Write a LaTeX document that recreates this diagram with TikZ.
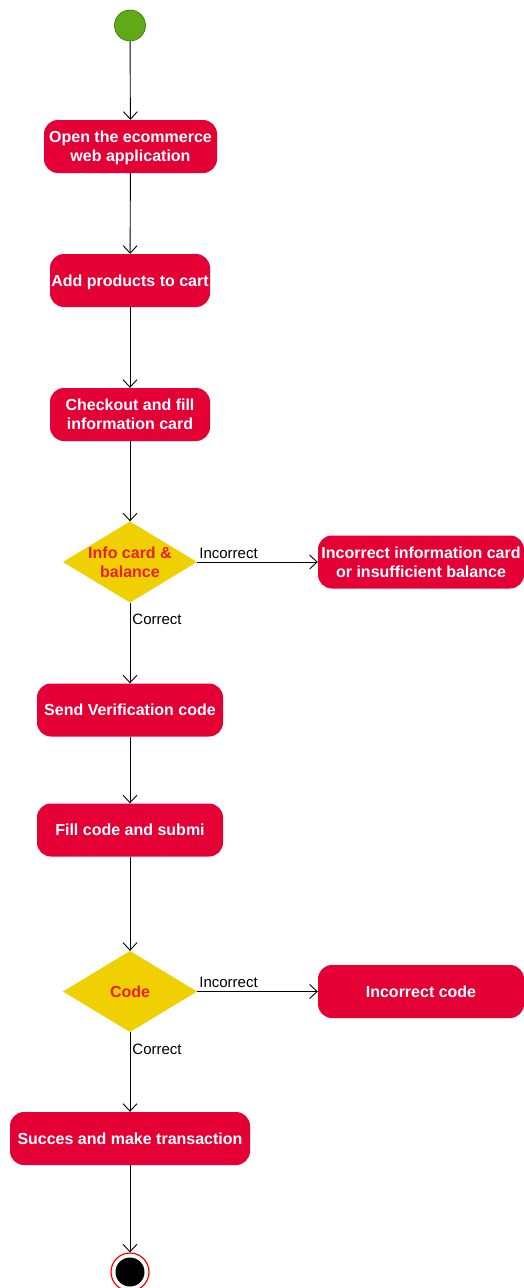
\documentclass[tikz,border=0pt]{standalone}
\usepackage{fontspec}
\setmainfont{Liberation Sans}
\usetikzlibrary{arrows.meta}
\definecolor{actred}{HTML}{E40035}
\definecolor{decyellow}{HTML}{F0D000}
\definecolor{dectext}{HTML}{E8202F}
\definecolor{startgreen}{HTML}{60A917}
\definecolor{startedge}{HTML}{2D7600}
\begin{document}
\begin{tikzpicture}[x=1pt,y=-1pt,
  action/.style={fill=actred, rounded corners=14pt, text=white,
    font=\fontsize{16}{19}\selectfont\bfseries, align=center,
    inner sep=0pt, minimum height=53pt, text depth=0pt},
  decision/.style={rectangle, fill=white, minimum width=134pt, minimum height=81pt,
    inner sep=0pt, align=center, text=dectext,
    font=\fontsize{16}{19}\selectfont\bfseries,
    path picture={\fill[decyellow] (path picture bounding box.north)
      -- (path picture bounding box.east) -- (path picture bounding box.south)
      -- (path picture bounding box.west) -- cycle;}},
  initial/.style={circle, fill=startgreen, draw=startedge, line width=0.6pt,
    minimum size=31pt, inner sep=0pt},
  final/.style={circle, draw=red, line width=1.2pt, fill=white,
    minimum size=38pt, inner sep=0pt,
    path picture={\fill[black] (path picture bounding box.center) circle[radius=14.5pt];}},
  flow/.style={draw=black, line width=0.9pt, -{Straight Barb[length=7.5pt,width=14pt]}},
  lbl/.style={font=\fontsize{15}{18}\selectfont, text=black, inner sep=2pt}
]
\useasboundingbox (0,0) rectangle (523,1288);

% activity nodes
\node[initial] (start) at (130,25.5) {};
\node[action, minimum width=173pt] (open) at (130.5,146.5) {Open the ecommerce\\web application};
\node[action, minimum width=160pt] (cart) at (130,280.5) {Add products to cart};
\node[action, minimum width=160pt] (checkout) at (130,414.5) {Checkout and fill\\information card};
\node[decision] (info) at (130,562) {Info card \&\\balance};
\node[action, minimum width=206pt] (badinfo) at (421,562) {Incorrect information card\\or insufficient balance};
\node[action, minimum width=186pt] (send) at (130,710) {Send Verification code};
\node[action, minimum width=186pt] (fill) at (130,830) {Fill code and submi};
\node[decision] (code) at (130,991.5) {Code};
\node[action, minimum width=206pt] (badcode) at (421,991.5) {Incorrect code};
\node[action, minimum width=240pt] (success) at (130,1138.5) {Succes and make transaction};
\node[final] (end) at (130,1272) {};

% control flow
\draw[flow] (start) -- (open);
\draw[flow] (open) -- (cart);
\draw[flow] (cart) -- (checkout);
\draw[flow] (checkout) -- (info.north);
\draw[flow] (info.east) -- node[lbl, pos=0.26, anchor=south, inner sep=3pt] {Incorrect} (badinfo.west);
\draw[flow] (info.south) -- node[lbl, pos=0.21, anchor=west] {Correct} (send);
\draw[flow] (send) -- (fill);
\draw[flow] (fill) -- (code.north);
\draw[flow] (code.east) -- node[lbl, pos=0.26, anchor=south, inner sep=3pt] {Incorrect} (badcode.west);
\draw[flow] (code.south) -- node[lbl, pos=0.21, anchor=west] {Correct} (success);
\draw[flow] (success) -- (end);
\end{tikzpicture}
\end{document}
